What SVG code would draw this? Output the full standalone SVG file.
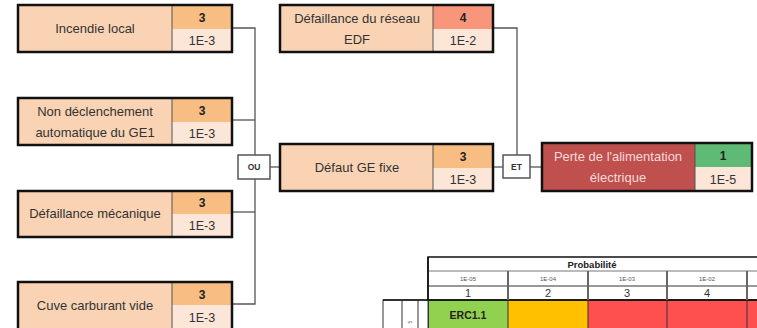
<svg xmlns="http://www.w3.org/2000/svg" width="757" height="328" viewBox="0 0 757 328">
<style>
.lbl{font-family:"Liberation Sans",Arial,sans-serif;font-size:13px;fill:#333;text-anchor:middle}
.num{font-family:"Liberation Sans",Arial,sans-serif;font-size:12px;font-weight:bold;fill:#222;text-anchor:middle}
.val{font-family:"Liberation Sans",Arial,sans-serif;font-size:12.5px;fill:#333;text-anchor:middle}
.gate{font-family:"Liberation Sans",Arial,sans-serif;font-size:8.5px;font-weight:bold;fill:#333;text-anchor:middle}
.main{fill:#F9D3B4}
.n3{fill:#F8BD83}
.n4{fill:#F7967B}
.n1{fill:#5EBA74}
.v{fill:#FCE6D8}
.frame{fill:none;stroke:#111;stroke-width:2.5}
.split{stroke:#555;stroke-width:1;fill:none}
.conn{stroke:#555;stroke-width:1.3;fill:none}
.gbox{fill:#fff;stroke:#555;stroke-width:1.5}
.tsmall{font-family:"Liberation Sans",Arial,sans-serif;font-size:6px;fill:#555;text-anchor:middle}
.tnum{font-family:"Liberation Sans",Arial,sans-serif;font-size:11px;fill:#333;text-anchor:middle}
</style>

<g id="connectors">
<polyline class="conn" points="232,28 255,28 255,155"/>
<line class="conn" x1="232" y1="120" x2="255" y2="120"/>
<polyline class="conn" points="255,179 255,304 232,304"/>
<line class="conn" x1="232" y1="212" x2="255" y2="212"/>
<line class="conn" x1="270" y1="167" x2="280" y2="167"/>
<polyline class="conn" points="493,28 517,28 517,155"/>
<line class="conn" x1="493" y1="167" x2="503" y2="167"/>
<line class="conn" x1="530" y1="167" x2="542" y2="167"/>
</g>

<g id="n-incendie">
<rect class="main" x="18" y="5" width="154" height="47"/>
<rect class="n3" x="172" y="5" width="60" height="24"/>
<rect class="v" x="172" y="29" width="60" height="23"/>
<line class="split" x1="172" y1="5" x2="172" y2="52"/>
<rect class="frame" x="18" y="5" width="214" height="47"/>
<text class="lbl" x="95" y="33">Incendie local</text>
<text class="num" x="202" y="22">3</text>
<text class="val" x="202" y="45">1E-3</text>
</g>

<g id="n-nondecl">
<rect class="main" x="18" y="98" width="154" height="47"/>
<rect class="n3" x="172" y="98" width="60" height="24"/>
<rect class="v" x="172" y="122" width="60" height="23"/>
<line class="split" x1="172" y1="98" x2="172" y2="145"/>
<rect class="frame" x="18" y="98" width="214" height="47"/>
<text class="lbl" x="95" y="116">Non déclenchement</text>
<text class="lbl" x="95" y="137">automatique du GE1</text>
<text class="num" x="202" y="115">3</text>
<text class="val" x="202" y="138">1E-3</text>
</g>

<g id="n-mecanique">
<rect class="main" x="18" y="191" width="154" height="46"/>
<rect class="n3" x="172" y="191" width="60" height="23"/>
<rect class="v" x="172" y="214" width="60" height="23"/>
<line class="split" x1="172" y1="191" x2="172" y2="237"/>
<rect class="frame" x="18" y="191" width="214" height="46"/>
<text class="lbl" x="95" y="218">Défaillance mécanique</text>
<text class="num" x="202" y="207">3</text>
<text class="val" x="202" y="230">1E-3</text>
</g>

<g id="n-cuve">
<rect class="main" x="18" y="282" width="154" height="48"/>
<rect class="n3" x="172" y="282" width="60" height="23"/>
<rect class="v" x="172" y="305" width="60" height="25"/>
<line class="split" x1="172" y1="282" x2="172" y2="330"/>
<rect class="frame" x="18" y="282" width="214" height="48"/>
<text class="lbl" x="95" y="310">Cuve carburant vide</text>
<text class="num" x="202" y="299">3</text>
<text class="val" x="202" y="322">1E-3</text>
</g>

<g id="g-ou">
<rect class="gbox" x="238" y="155" width="32" height="24"/>
<text class="gate" x="254" y="170">OU</text>
</g>

<g id="n-edf">
<rect class="main" x="280" y="5" width="153" height="47"/>
<rect class="n4" x="433" y="5" width="60" height="24"/>
<rect class="v" x="433" y="29" width="60" height="23"/>
<line class="split" x1="433" y1="5" x2="433" y2="52"/>
<rect class="frame" x="280" y="5" width="213" height="47"/>
<text class="lbl" x="357" y="23">Défaillance du réseau</text>
<text class="lbl" x="357" y="44">EDF</text>
<text class="num" x="463" y="22">4</text>
<text class="val" x="463" y="45">1E-2</text>
</g>

<g id="n-defaut-ge">
<rect class="main" x="280" y="144" width="153" height="47"/>
<rect class="n3" x="433" y="144" width="60" height="24"/>
<rect class="v" x="433" y="168" width="60" height="23"/>
<line class="split" x1="433" y1="144" x2="433" y2="191"/>
<rect class="frame" x="280" y="144" width="213" height="47"/>
<text class="lbl" x="357" y="172">Défaut GE fixe</text>
<text class="num" x="463" y="161">3</text>
<text class="val" x="463" y="184">1E-3</text>
</g>

<g id="g-et">
<rect class="gbox" x="503" y="155" width="27" height="23"/>
<text class="gate" x="516.5" y="170">ET</text>
</g>

<g id="n-perte">
<rect x="542" y="143" width="153" height="48" fill="#C0504D"/>
<rect class="n1" x="695" y="143" width="57" height="24"/>
<rect class="v" x="695" y="167" width="57" height="24"/>
<line class="split" x1="695" y1="143" x2="695" y2="191"/>
<rect class="frame" x="542" y="143" width="210" height="48"/>
<text class="lbl" x="618" y="161" style="fill:#F4DCDA">Perte de l'alimentation</text>
<text class="lbl" x="618" y="182" style="fill:#F4DCDA">électrique</text>
<text class="num" x="723" y="160">1</text>
<text class="val" x="723" y="184">1E-5</text>
</g>

<g id="table">
<rect x="428" y="300" width="80" height="30" fill="#92D050"/>
<rect x="508" y="300" width="80" height="30" fill="#FFC000"/>
<rect x="588" y="300" width="169" height="30" fill="#FF5050"/>
<rect x="428" y="257" width="340" height="43" fill="#fff" stroke="#111" stroke-width="1.5"/>
<line x1="428" y1="271" x2="757" y2="271" stroke="#777" stroke-width="1"/>
<line x1="428" y1="286" x2="757" y2="286" stroke="#333" stroke-width="1"/>
<line x1="428" y1="300" x2="757" y2="300" stroke="#111" stroke-width="1.5"/>
<g stroke="#666" stroke-width="2">
<line x1="508" y1="271" x2="508" y2="300"/>
<line x1="588" y1="271" x2="588" y2="300"/>
<line x1="667" y1="271" x2="667" y2="300"/>
<line x1="747" y1="271" x2="747" y2="300"/>
</g>
<g stroke="#333" stroke-width="1">
<line x1="508" y1="300" x2="508" y2="330"/>
<line x1="588" y1="300" x2="588" y2="330"/>
<line x1="667" y1="300" x2="667" y2="330"/>
<line x1="747" y1="300" x2="747" y2="330"/>
</g>
<line x1="428" y1="257" x2="428" y2="330" stroke="#111" stroke-width="1.5"/>
<rect x="383" y="300" width="45" height="30" fill="#fff" stroke="#333" stroke-width="1"/>
<line x1="402" y1="300" x2="402" y2="330" stroke="#777" stroke-width="1.5"/>
<line x1="418" y1="300" x2="418" y2="330" stroke="#777" stroke-width="1.5"/>
<line x1="383" y1="300" x2="428" y2="300" stroke="#111" stroke-width="1.5"/>
<text x="592" y="268" style="font-family:'Liberation Sans',Arial,sans-serif;font-size:9.5px;font-weight:bold;fill:#222;text-anchor:middle">Probabilité</text>
<text class="tsmall" x="468" y="281">1E-05</text>
<text class="tsmall" x="548" y="281">1E-04</text>
<text class="tsmall" x="627" y="281">1E-03</text>
<text class="tsmall" x="707" y="281">1E-02</text>
<text class="tnum" x="468" y="297">1</text>
<text class="tnum" x="548" y="297">2</text>
<text class="tnum" x="627" y="297">3</text>
<text class="tnum" x="707" y="297">4</text>
<text x="468" y="319" style="font-family:'Liberation Sans',Arial,sans-serif;font-size:10.5px;font-weight:bold;fill:#222;text-anchor:middle">ERC1.1</text>
<text x="410" y="324" transform="rotate(-90 410 322)" style="font-family:'Liberation Sans',Arial,sans-serif;font-size:5px;fill:#556;text-anchor:middle">5</text>
</g>
</svg>
